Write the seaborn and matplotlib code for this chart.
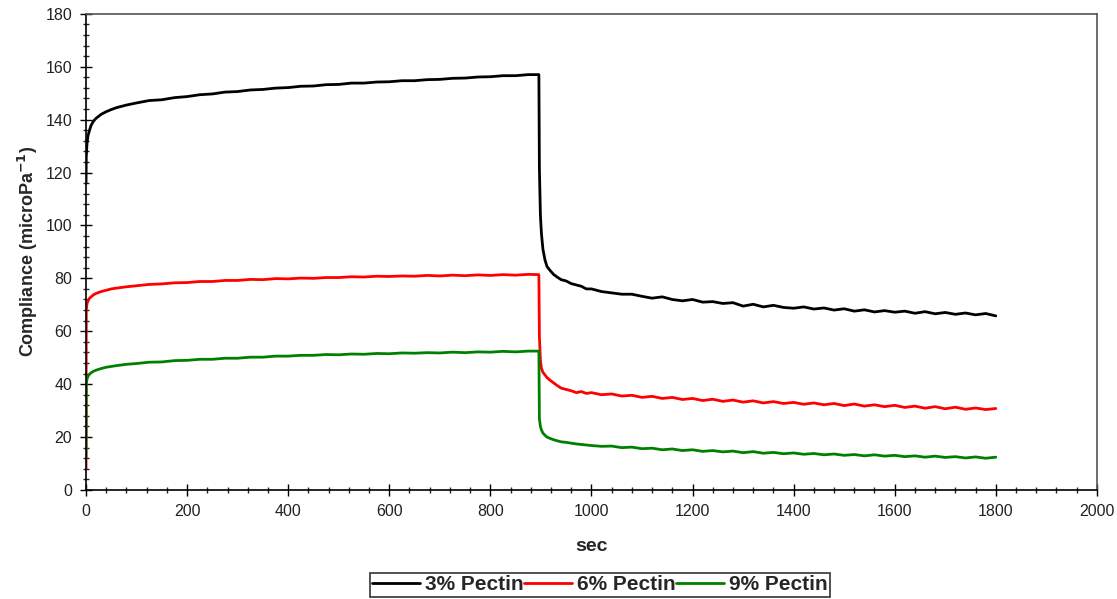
import pandas as pd
import matplotlib
matplotlib.use("Agg")
import matplotlib.pyplot as plt
from matplotlib.ticker import MultipleLocator
import seaborn as sns

# time points (sec), shared by the three curves
time_s = [0, 0.5, 2, 4, 7, 10, 15, 20, 30, 40, 50, 60, 80, 100, 125, 150, 175, 200,
          225, 250, 275, 300, 325, 350, 375, 400, 425, 450, 475, 500, 525, 550, 575,
          600, 625, 650, 675, 700, 725, 750, 775, 800, 825, 850, 875, 896,
          897, 899, 901, 904, 908, 912, 918, 925, 932, 940, 950, 960, 970, 980, 990,
          1000, 1020, 1040, 1060, 1080, 1100, 1120, 1140, 1160, 1180, 1200, 1220,
          1240, 1260, 1280, 1300, 1320, 1340, 1360, 1380, 1400, 1420, 1440, 1460,
          1480, 1500, 1520, 1540, 1560, 1580, 1600, 1620, 1640, 1660, 1680, 1700,
          1720, 1740, 1760, 1780, 1800]

pectin_3 = [116, 126, 131, 134, 136, 137.8, 139.5, 140.5, 142, 143, 143.8, 144.5,
            145.5, 146.3, 147.2, 147.5, 148.3, 148.7, 149.4, 149.7, 150.4, 150.6,
            151.2, 151.4, 151.9, 152.1, 152.6, 152.7, 153.2, 153.3, 153.8, 153.8,
            154.2, 154.3, 154.7, 154.7, 155.1, 155.2, 155.6, 155.7, 156.1, 156.2,
            156.6, 156.6, 157.0, 157.0,
            121.5, 104, 97, 91, 87, 84.5, 83, 81.5, 80.5, 79.5, 79, 78, 77.5, 77, 76,
            76, 75, 74.5, 74, 74, 73.2, 72.5, 73, 72, 71.5, 72, 71, 71.2, 70.5, 70.8,
            69.5, 70.2, 69.2, 69.8, 69, 68.7, 69.2, 68.4, 68.8, 68, 68.5, 67.6, 68.1,
            67.3, 67.8, 67.2, 67.6, 66.8, 67.4, 66.6, 67.1, 66.4, 66.9, 66.2, 66.7,
            65.8]

pectin_6 = [8, 68, 70.5, 71.5, 72.5, 73, 73.8, 74.3, 75, 75.5, 76, 76.3, 76.8, 77.2,
            77.7, 77.9, 78.3, 78.4, 78.8, 78.8, 79.2, 79.2, 79.6, 79.5, 79.9, 79.8,
            80.1, 80, 80.3, 80.3, 80.6, 80.5, 80.8, 80.7, 80.9, 80.8, 81.1, 80.9,
            81.2, 81, 81.3, 81.1, 81.4, 81.2, 81.5, 81.4,
            58, 49, 46, 44.5, 43.5, 42.5, 41.5, 40.5, 39.5, 38.5, 38, 37.5, 36.8,
            37.2, 36.5, 36.8, 36, 36.3, 35.5, 35.8, 35, 35.4, 34.6, 35, 34.2, 34.6,
            33.8, 34.3, 33.5, 34, 33.2, 33.7, 32.9, 33.4, 32.7, 33.1, 32.4, 32.9,
            32.2, 32.7, 31.9, 32.5, 31.7, 32.2, 31.5, 32, 31.2, 31.7, 30.9, 31.5,
            30.7, 31.3, 30.5, 31, 30.4, 30.8]

pectin_9 = [12, 40, 42, 43, 43.8, 44.3, 44.9, 45.3, 45.9, 46.4, 46.7, 47, 47.5, 47.8,
            48.3, 48.4, 48.9, 49, 49.4, 49.4, 49.8, 49.8, 50.2, 50.2, 50.6, 50.6,
            50.9, 50.9, 51.2, 51.1, 51.4, 51.3, 51.6, 51.5, 51.8, 51.7, 51.9, 51.8,
            52.1, 51.9, 52.2, 52.1, 52.4, 52.2, 52.5, 52.5,
            27, 24, 22.7, 21.5, 20.7, 20, 19.5, 19, 18.6, 18.2, 18, 17.7, 17.4, 17.2,
            17, 16.8, 16.5, 16.6, 16, 16.2, 15.6, 15.8, 15.2, 15.5, 14.9, 15.2, 14.6,
            14.9, 14.4, 14.7, 14.1, 14.5, 13.9, 14.2, 13.7, 14, 13.5, 13.8, 13.3,
            13.6, 13.1, 13.4, 12.9, 13.3, 12.8, 13.1, 12.6, 12.9, 12.4, 12.8, 12.3,
            12.6, 12.1, 12.5, 12, 12.4]

labels = ["3% Pectin", "6% Pectin", "9% Pectin"]
colors = ["#000000", "#ff0000", "#008000"]

df = pd.concat([
    pd.DataFrame({"sec": time_s, "compliance": vals, "series": lab})
    for vals, lab in zip([pectin_3, pectin_6, pectin_9], labels)
])

sns.set_style("white")
plt.rcParams['font.family'] = ['Liberation Sans', 'DejaVu Sans']

fig = plt.figure(figsize=(11.17, 5.99), dpi=100)
ax = fig.add_axes([0.077, 0.182, 0.905, 0.795])

sns.lineplot(data=df, x="sec", y="compliance", hue="series", palette=colors,
             hue_order=labels, sort=False, estimator=None, linewidth=2.0,
             ax=ax, legend=False)

ax.set_xlim(0, 2000)
ax.set_ylim(0, 180)
ax.xaxis.set_major_locator(MultipleLocator(200))
ax.xaxis.set_minor_locator(MultipleLocator(40))
ax.yaxis.set_major_locator(MultipleLocator(20))
ax.yaxis.set_minor_locator(MultipleLocator(4))
ax.tick_params(which="major", direction="inout", length=8, width=1,
               labelsize=11.5, colors="black", labelcolor="#222222", pad=6)
ax.tick_params(which="minor", direction="inout", length=5, width=1)
ax.tick_params(axis="x", which="both", bottom=True)
ax.tick_params(axis="y", which="both", left=True)

for side in ["left", "bottom"]:
    ax.spines[side].set_color("black")
    ax.spines[side].set_linewidth(1.2)
for side in ["top", "right"]:
    ax.spines[side].set_color("#555555")
    ax.spines[side].set_linewidth(1.2)

ax.set_xlabel("sec", fontsize=14, fontweight="bold", labelpad=14)
ax.set_ylabel("Compliance (microPa$^{\\mathbf{-1}}$)", fontsize=13,
              fontweight="bold", labelpad=4)

handles = [plt.Line2D([], [], color=c, linewidth=2) for c in colors]
leg = fig.legend(handles, labels, loc="lower center", ncol=3,
                 bbox_to_anchor=(0.537, 0.0), frameon=True, fancybox=False,
                 prop={"weight": "bold", "size": 15}, columnspacing=0.0,
                 handlelength=2.3, handletextpad=0.25, borderpad=0.12,
                 borderaxespad=0.1)
leg.get_frame().set_edgecolor("black")
leg.get_frame().set_linewidth(1.2)

fig.savefig("out.png", dpi=100)
